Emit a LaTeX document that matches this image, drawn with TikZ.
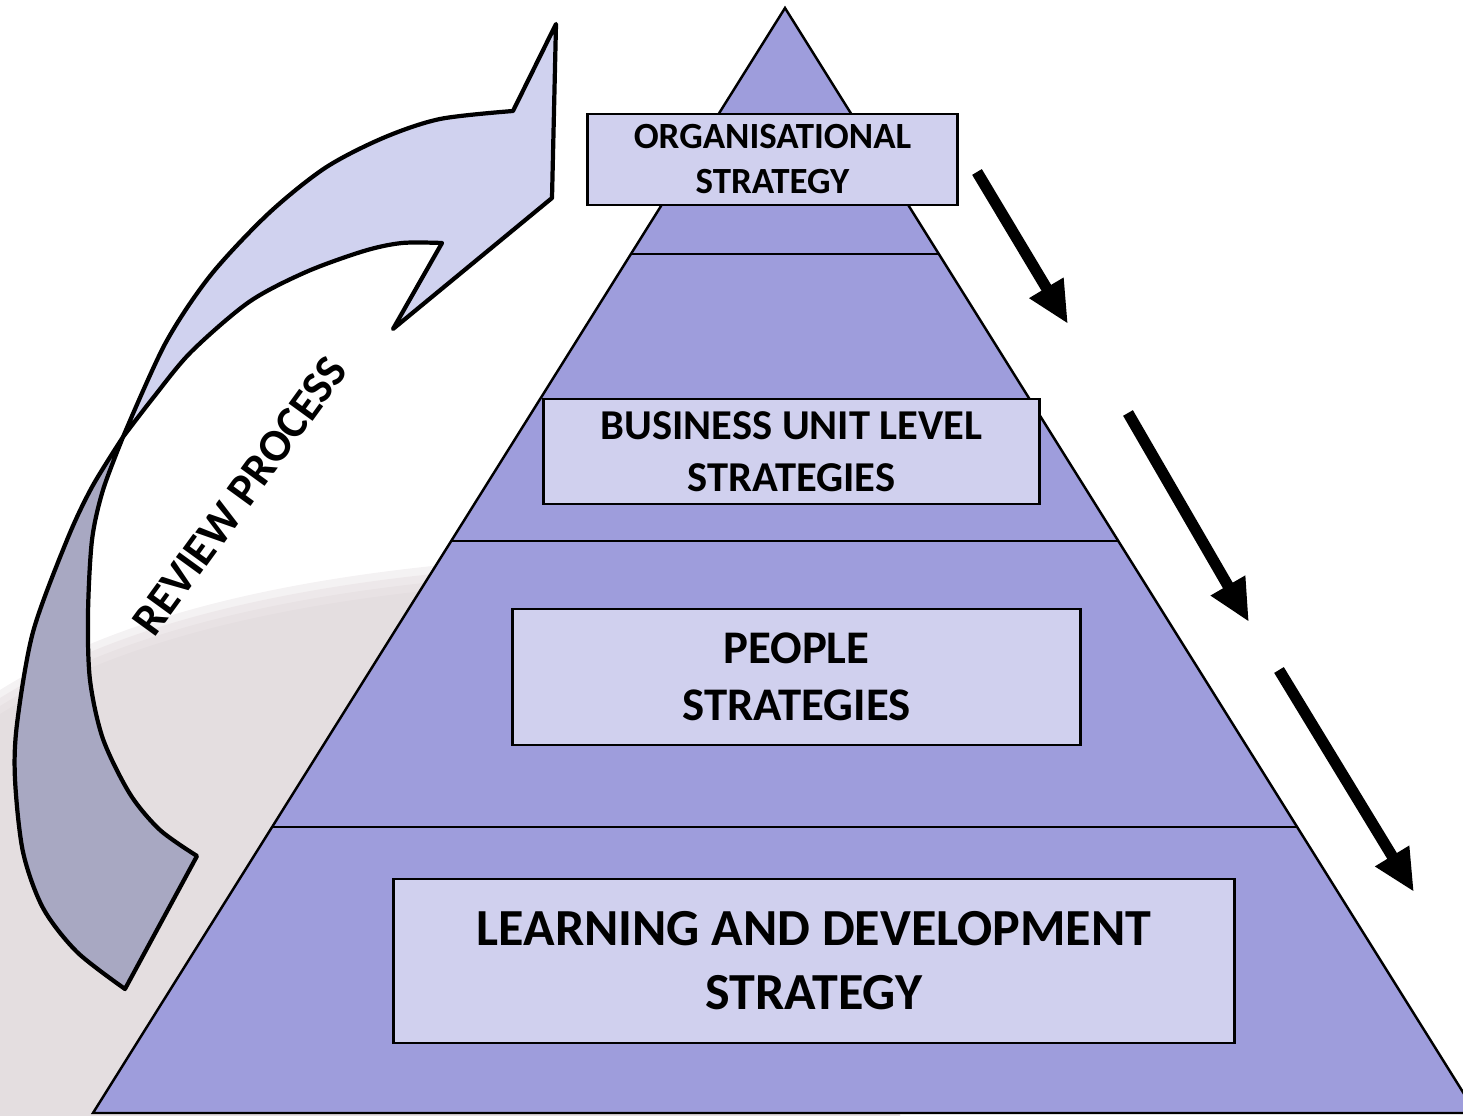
\documentclass[tikz,border=0pt]{standalone}
\usepackage{fontspec}
\setmainfont{Carlito}
\usetikzlibrary{arrows.meta}
\definecolor{pyrblue}{HTML}{9E9DDC}
\definecolor{boxblue}{HTML}{D0D0EE}
\definecolor{loopblue}{HTML}{D0D2EF}
\definecolor{loopgray}{HTML}{A8A8C2}
\definecolor{swoosh}{HTML}{DCD3D6}

\begin{document}
\begin{tikzpicture}[x=0.01cm,y=-0.01cm,font=\bfseries,
  tierbox/.style={draw=black,fill=boxblue,line width=0.8pt,align=center,inner sep=0pt},
  tierline/.style={draw=black,line width=0.7pt},
  loopedge/.style={draw=black,line width=1.2pt,line join=round},
  flowarrow/.style={line width=3.2pt,-{Triangle[length=12pt,width=10.5pt]}}]
\useasboundingbox (0,0) rectangle (1463,1116);
% faint backdrop, stacked copies give it a soft rim
\foreach \dy in {0,8,16,24}
  \fill[swoosh,fill opacity=0.3,shift={(0,\dy)}]
    (0,690) .. controls (120,615) and (300,570) .. (560,556) -- (900,556) -- (900,1116) -- (0,1116) -- cycle;
% pyramid
\coordinate (apex) at (785,8);
\coordinate (baseL) at (93,1113);
\coordinate (baseR) at (1476,1113);
\begin{scope}
\clip (0,0) rectangle (1463,1116);
\filldraw[fill=pyrblue,tierline] (apex) -- (baseR) -- (baseL) -- cycle;
\end{scope}
\draw[tierline] (631,254) -- (939,254);
\draw[tierline] (451,541) -- (1118,541);
\draw[tierline] (272,827) -- (1297,827);
% tier labels
\node[tierbox,minimum width=3.69cm,minimum height=0.91cm,font=\bfseries\fontsize{10.5}{12.8}\selectfont]
  (orgbox) at (772.5,159.5) {ORGANISATIONAL\\STRATEGY};
\node[tierbox,minimum width=4.95cm,minimum height=1.05cm,font=\bfseries\fontsize{12.1}{14.8}\selectfont]
  (busbox) at (791.5,451.5) {BUSINESS UNIT LEVEL\\STRATEGIES};
\node[tierbox,minimum width=5.67cm,minimum height=1.36cm,font=\bfseries\fontsize{13.3}{16.2}\selectfont]
  (peoplebox) at (796.5,677) {PEOPLE\\STRATEGIES};
\node[tierbox,minimum width=8.40cm,minimum height=1.64cm,font=\bfseries\fontsize{14.8}{18.2}\selectfont]
  (learnbox) at (814,961) {LEARNING AND DEVELOPMENT\\STRATEGY};
% review loop, back side
\filldraw[fill=loopgray,loopedge]
  plot[smooth] coordinates {(123,437) (92,487) (67,540) (33,632) (17,724) (15,779) (23,852) (43,908) (77,952) (125,989)}
  -- (197,856)
  -- plot[smooth] coordinates {(197,856) (160,830) (130,794) (103,739) (90,680) (88,614) (92,540) (103,490) (123,437)}
  -- cycle;
% review loop, front side with head
\filldraw[fill=loopblue,loopedge]
  plot[smooth] coordinates {(123,437) (165,344) (210,276) (268,214) (325,168) (383,138) (440,119) (513,111)}
  -- (556,24) -- (552,198) -- (393,329) -- (442,243)
  -- plot[smooth] coordinates {(442,243) (402,243) (364,251) (306,272) (249,302) (191,352) (153,398) (123,437)}
  -- cycle;
\node[rotate=54,font=\bfseries\fontsize{13}{15}\selectfont] (review) at (240,496) {REVIEW PROCESS};
% cascade arrows
\coordinate (d1s) at (977,172);
\coordinate (d1e) at (1068,324);
\coordinate (d2s) at (1128,413);
\coordinate (d2e) at (1249,622);
\coordinate (d3s) at (1279,670);
\coordinate (d3e) at (1414,892);
\draw[flowarrow] (d1s) -- (d1e);
\draw[flowarrow] (d2s) -- (d2e);
\draw[flowarrow] (d3s) -- (d3e);
\end{tikzpicture}
\end{document}
